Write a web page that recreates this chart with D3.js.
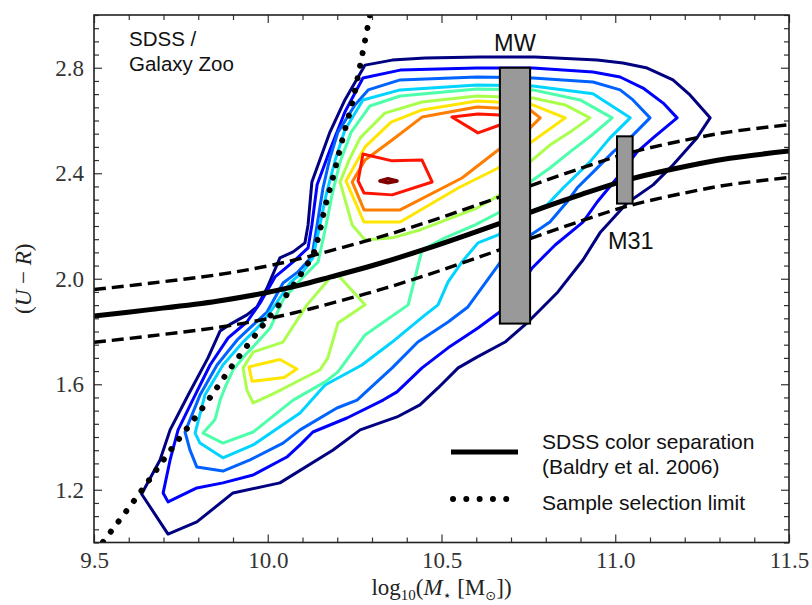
<!DOCTYPE html>
<html>
<head>
<meta charset="utf-8">
<script src="https://cdn.jsdelivr.net/npm/d3@7"></script>
<style>
  body { margin: 0; background: #fff; }
  svg { display: block; }
</style>
</head>
<body>
<svg id="chart" width="812" height="605"></svg>
<script>
// ---- axes -------------------------------------------------------------
const xDomain = [9.5, 11.5];
const yDomain = [1.0, 3.0];
const xTicks = [9.5, 10.0, 10.5, 11.0, 11.5];
const yTicks = [1.2, 1.6, 2.0, 2.4, 2.8];

// ---- density contours of the SDSS / Galaxy Zoo sample ------------------
// jet colours, outermost level first
const levelColors = ["#000080", "#0000ff", "#0063ff", "#00d4ff", "#4dffaa",
                     "#aaff4d", "#ffe600", "#ff7d00", "#ff1400", "#800000"];

// rings as [log10 M*, U-R]
const ring0 = [[9.637,1.184],[9.690,1.313],[9.719,1.427],[9.771,1.559],[9.828,1.700],[9.863,1.802],[9.894,1.829],[9.940,1.863],[9.969,1.893],[9.998,1.965],[10.035,2.079],[10.073,2.102],[10.107,2.136],[10.116,2.204],[10.127,2.367],[10.179,2.556],[10.222,2.678],[10.280,2.810],[10.358,2.829],[10.453,2.837],[10.611,2.841],[10.769,2.841],[10.948,2.829],[11.022,2.818],[11.092,2.799],[11.166,2.754],[11.215,2.697],[11.273,2.610],[11.235,2.534],[11.166,2.431],[11.109,2.356],[11.034,2.287],[10.956,2.174],[10.907,2.071],[10.835,1.950],[10.749,1.836],[10.683,1.760],[10.602,1.703],[10.548,1.662],[10.490,1.586],[10.438,1.522],[10.372,1.476],[10.266,1.427],[10.188,1.351],[10.035,1.226],[9.900,1.188],[9.796,1.078],[9.713,1.032]];
const ring1 = [[9.699,1.188],[9.719,1.313],[9.742,1.427],[9.791,1.559],[9.834,1.673],[9.886,1.776],[9.940,1.836],[9.978,1.908],[10.021,2.007],[10.073,2.064],[10.116,2.117],[10.127,2.204],[10.142,2.356],[10.179,2.488],[10.222,2.632],[10.274,2.761],[10.381,2.791],[10.602,2.799],[10.763,2.799],[10.936,2.784],[11.014,2.765],[11.080,2.723],[11.138,2.666],[11.178,2.610],[11.109,2.534],[11.063,2.481],[11.005,2.382],[10.948,2.291],[10.907,2.215],[10.827,2.128],[10.761,2.041],[10.683,1.889],[10.605,1.813],[10.519,1.738],[10.444,1.662],[10.372,1.571],[10.332,1.540],[10.228,1.472],[10.130,1.419],[10.093,1.370],[10.055,1.324],[9.958,1.256],[9.871,1.226],[9.796,1.207],[9.713,1.154]];
const ring2 = [[9.796,1.286],[9.776,1.351],[9.762,1.419],[9.805,1.559],[9.854,1.673],[9.912,1.768],[9.958,1.825],[9.998,1.874],[10.044,1.984],[10.087,2.026],[10.127,2.083],[10.142,2.204],[10.159,2.344],[10.179,2.458],[10.202,2.556],[10.251,2.659],[10.289,2.716],[10.381,2.754],[10.602,2.765],[10.763,2.761],[10.936,2.746],[11.014,2.716],[11.051,2.678],[11.100,2.610],[11.043,2.534],[10.994,2.481],[10.942,2.412],[10.890,2.344],[10.861,2.291],[10.812,2.215],[10.761,2.170],[10.668,2.060],[10.576,1.893],[10.519,1.836],[10.432,1.760],[10.358,1.662],[10.257,1.540],[10.199,1.510],[10.093,1.427],[10.044,1.377],[9.949,1.313],[9.871,1.271]];
const ring3 = [[9.805,1.377],[9.791,1.415],[9.819,1.559],[9.871,1.673],[9.929,1.760],[9.978,1.825],[10.015,1.889],[10.064,1.984],[10.101,2.026],[10.130,2.079],[10.150,2.204],[10.168,2.318],[10.194,2.450],[10.222,2.564],[10.274,2.678],[10.381,2.716],[10.602,2.735],[10.763,2.731],[10.936,2.701],[11.043,2.610],[10.985,2.534],[10.927,2.443],[10.850,2.344],[10.804,2.280],[10.755,2.253],[10.663,2.166],[10.605,2.136],[10.559,2.064],[10.519,1.988],[10.490,1.901],[10.453,1.863],[10.358,1.760],[10.271,1.673],[10.165,1.597],[10.093,1.491],[9.958,1.370],[9.871,1.321]];
const ring4 = [[9.814,1.415],[9.848,1.465],[9.863,1.540],[9.880,1.597],[9.900,1.654],[9.935,1.711],[9.963,1.749],[10.007,1.813],[10.044,1.920],[10.099,2.003],[10.145,2.064],[10.168,2.204],[10.185,2.318],[10.208,2.443],[10.240,2.556],[10.294,2.655],[10.381,2.693],[10.602,2.719],[10.763,2.716],[10.899,2.678],[10.991,2.610],[10.933,2.545],[10.870,2.481],[10.812,2.420],[10.755,2.367],[10.668,2.253],[10.597,2.204],[10.510,2.155],[10.444,2.109],[10.404,1.901],[10.280,1.787],[10.202,1.647],[10.165,1.609],[10.073,1.540],[9.958,1.419],[9.871,1.377]];
const ring5a = [[10.208,2.367],[10.234,2.450],[10.266,2.534],[10.337,2.628],[10.444,2.670],[10.602,2.693],[10.763,2.685],[10.856,2.659],[10.927,2.610],[10.870,2.556],[10.812,2.507],[10.755,2.443],[10.668,2.318],[10.602,2.268],[10.438,2.185],[10.358,2.155],[10.280,2.147],[10.243,2.204]];
const ring5b = [[9.929,1.662],[9.958,1.722],[10.044,1.760],[10.113,1.901],[10.179,2.003],[10.202,2.014],[10.280,1.901],[10.202,1.832],[10.173,1.700],[10.150,1.654],[10.093,1.616],[10.021,1.567],[9.958,1.529],[9.940,1.578]];
const ring6a = [[10.225,2.371],[10.280,2.500],[10.355,2.594],[10.444,2.640],[10.602,2.674],[10.755,2.663],[10.856,2.610],[10.755,2.515],[10.663,2.420],[10.548,2.344],[10.381,2.215],[10.277,2.215]];
const ring6b = [[9.946,1.666],[10.035,1.694],[10.084,1.658],[10.047,1.626],[9.955,1.611]];
const ring7 = [[10.243,2.367],[10.280,2.450],[10.358,2.526],[10.444,2.613],[10.602,2.651],[10.755,2.640],[10.784,2.610],[10.755,2.572],[10.663,2.488],[10.559,2.382],[10.381,2.261],[10.277,2.261]];
const ring8a = [[10.260,2.371],[10.277,2.325],[10.358,2.318],[10.473,2.367],[10.444,2.450],[10.358,2.447],[10.274,2.473]];
const ring8b = [[10.530,2.613],[10.605,2.625],[10.668,2.621],[10.703,2.606],[10.668,2.583],[10.605,2.553]];
const ring9 = [[10.323,2.371],[10.346,2.379],[10.372,2.371],[10.346,2.364]];

const contourRings = [
  { level: 0, points: ring0 }, { level: 1, points: ring1 },
  { level: 2, points: ring2 }, { level: 3, points: ring3 },
  { level: 4, points: ring4 }, { level: 5, points: ring5a },
  { level: 5, points: ring5b }, { level: 6, points: ring6a },
  { level: 6, points: ring6b }, { level: 7, points: ring7 },
  { level: 8, points: ring8a }, { level: 8, points: ring8b },
  { level: 9, points: ring9 }
];

// ---- red / blue separation (Baldry et al. 2006) and its +-0.1 band ----
const sepMass  = [9.5, 9.661, 9.854, 9.998, 10.093, 10.179, 10.309, 10.453, 10.668, 10.755, 10.899, 11.043, 11.244, 11.330, 11.5];
const sepColor = [1.859, 1.883, 1.915, 1.948, 1.976, 2.006, 2.053, 2.112, 2.210, 2.252, 2.318, 2.378, 2.437, 2.457, 2.484];
const sepUpper = [1.959, 1.983, 2.015, 2.048, 2.076, 2.106, 2.153, 2.212, 2.310, 2.352, 2.418, 2.478, 2.537, 2.557, 2.584];
const sepLower = [1.759, 1.783, 1.815, 1.848, 1.876, 1.906, 1.953, 2.012, 2.110, 2.152, 2.218, 2.278, 2.337, 2.357, 2.384];

// ---- sample selection limit --------------------------------------------
const limitMass  = [9.526, 9.638, 9.727, 9.819, 9.906, 9.998, 10.064, 10.107, 10.130, 10.145, 10.165, 10.185, 10.222, 10.243, 10.266, 10.294];
const limitColor = [1.002, 1.199, 1.362, 1.522, 1.685, 1.844, 1.957, 2.041, 2.090, 2.155, 2.272, 2.371, 2.564, 2.666, 2.810, 3.0];

// ---- Milky Way and Andromeda boxes ---------------------------------------
const galaxyNames   = ["MW", "M31"];
const galaxyMassLo  = [10.668, 11.005];
const galaxyMassHi  = [10.755, 11.050];
const galaxyColorLo = [1.83, 2.285];
const galaxyColorHi = [2.80, 2.54];

// ---- legend --------------------------------------------------------------
const legendLabels = [["SDSS color separation", "(Baldry et al. 2006)"], ["Sample selection limit"]];

// ========================================================================
const plot = { left: 94, right: 789, top: 15, bottom: 542.5 };
const svg = d3.select("#chart");

const x = d3.scaleLinear().domain(xDomain).range([plot.left, plot.right]);
const y = d3.scaleLinear().domain(yDomain).range([plot.bottom, plot.top]);

svg.append("defs").append("clipPath").attr("id", "plotClip")
  .append("rect")
  .attr("x", plot.left).attr("y", plot.top)
  .attr("width", plot.right - plot.left).attr("height", plot.bottom - plot.top);

const inner = svg.append("g").attr("clip-path", "url(#plotClip)");

// contours
const ringLine = d3.line().x(d => x(d[0])).y(d => y(d[1])).curve(d3.curveLinearClosed);
inner.append("g").selectAll("path").data(contourRings).join("path")
  .attr("d", d => ringLine(d.points))
  .attr("fill", "none")
  .attr("stroke", d => levelColors[d.level])
  .attr("stroke-width", d => d.level === 9 ? 3.6 : 3)
  .attr("stroke-linejoin", "round");

// separation line and band
const sepLine = d3.line().x(d => x(d[0])).y(d => y(d[1])).curve(d3.curveCatmullRom.alpha(0.5));
const sepMain  = sepMass.map((m, i) => [m, sepColor[i]]);
const sepHi    = sepMass.map((m, i) => [m, sepUpper[i]]);
const sepLo    = sepMass.map((m, i) => [m, sepLower[i]]);

inner.append("path").attr("d", sepLine(sepHi))
  .attr("fill", "none").attr("stroke", "#000").attr("stroke-width", 3.4)
  .attr("stroke-dasharray", "12 6");
inner.append("path").attr("d", sepLine(sepLo))
  .attr("fill", "none").attr("stroke", "#000").attr("stroke-width", 3.4)
  .attr("stroke-dasharray", "12 6");
inner.append("path").attr("d", sepLine(sepMain))
  .attr("fill", "none").attr("stroke", "#000").attr("stroke-width", 5);

// selection limit (dotted)
const limitLine = d3.line().x(d => x(d[0])).y(d => y(d[1])).curve(d3.curveMonotoneY);
inner.append("path")
  .attr("d", limitLine(limitMass.map((m, i) => [m, limitColor[i]])))
  .attr("fill", "none").attr("stroke", "#000").attr("stroke-width", 6)
  .attr("stroke-linecap", "round").attr("stroke-dasharray", "0.01 12.8");

// galaxy boxes
const boxes = galaxyNames.map((name, i) => ({
  name, m0: galaxyMassLo[i], m1: galaxyMassHi[i], c0: galaxyColorLo[i], c1: galaxyColorHi[i]
}));
svg.append("g").selectAll("rect").data(boxes).join("rect")
  .attr("x", d => x(d.m0)).attr("y", d => y(d.c1))
  .attr("width", d => x(d.m1) - x(d.m0)).attr("height", d => y(d.c0) - y(d.c1))
  .attr("fill", "#999999").attr("stroke", "#000").attr("stroke-width", 2);

svg.append("text")
  .attr("x", (x(boxes[0].m0) + x(boxes[0].m1)) / 2).attr("y", y(boxes[0].c1) - 17)
  .attr("text-anchor", "middle")
  .style("font-family", "'Liberation Sans', Arial, sans-serif").style("font-size", "23.5px")
  .attr("fill", "#111").text(boxes[0].name);
svg.append("text")
  .attr("x", (x(boxes[1].m0) + x(boxes[1].m1)) / 2 + 6).attr("y", y(boxes[1].c0) + 45)
  .attr("text-anchor", "middle")
  .style("font-family", "'Liberation Sans', Arial, sans-serif").style("font-size", "23.5px")
  .attr("fill", "#111").text(boxes[1].name);

// ---- axes ----------------------------------------------------------------
const fmt = d3.format(".1f");
const xMinor = d3.range(95, 116).map(v => v / 10).filter(v => !xTicks.some(t => Math.abs(t - v) < 1e-9));
const yMinor = d3.range(20, 61).map(v => v / 20).filter(v => !yTicks.some(t => Math.abs(t - v) < 1e-9));

function styleAxis(g) {
  g.select(".domain").remove();
  g.selectAll(".tick line").attr("stroke", "#333").attr("stroke-width", 1.2);
  g.selectAll(".tick text")
    .style("font-family", "'Liberation Serif', 'Times New Roman', serif")
    .style("font-size", "23px").attr("fill", "#333");
}

svg.append("g").attr("transform", `translate(0,${plot.bottom})`)
  .call(d3.axisBottom(x).tickValues(xTicks).tickSize(-8).tickSizeOuter(0).tickPadding(9).tickFormat(fmt))
  .call(styleAxis);
svg.append("g").attr("transform", `translate(0,${plot.bottom})`)
  .call(d3.axisBottom(x).tickValues(xMinor).tickSize(-5).tickSizeOuter(0).tickFormat(""))
  .call(styleAxis);
svg.append("g").attr("transform", `translate(0,${plot.top})`)
  .call(d3.axisTop(x).tickValues(xTicks).tickSize(-8).tickSizeOuter(0).tickFormat(""))
  .call(styleAxis);
svg.append("g").attr("transform", `translate(0,${plot.top})`)
  .call(d3.axisTop(x).tickValues(xMinor).tickSize(-5).tickSizeOuter(0).tickFormat(""))
  .call(styleAxis);

svg.append("g").attr("transform", `translate(${plot.left},0)`)
  .call(d3.axisLeft(y).tickValues(yTicks).tickSize(-8).tickSizeOuter(0).tickPadding(10).tickFormat(fmt))
  .call(styleAxis);
svg.append("g").attr("transform", `translate(${plot.left},0)`)
  .call(d3.axisLeft(y).tickValues(yMinor).tickSize(-5).tickSizeOuter(0).tickFormat(""))
  .call(styleAxis);
svg.append("g").attr("transform", `translate(${plot.right},0)`)
  .call(d3.axisRight(y).tickValues(yTicks).tickSize(-8).tickSizeOuter(0).tickFormat(""))
  .call(styleAxis);
svg.append("g").attr("transform", `translate(${plot.right},0)`)
  .call(d3.axisRight(y).tickValues(yMinor).tickSize(-5).tickSizeOuter(0).tickFormat(""))
  .call(styleAxis);

// frame
svg.append("rect")
  .attr("x", plot.left).attr("y", plot.top)
  .attr("width", plot.right - plot.left).attr("height", plot.bottom - plot.top)
  .attr("fill", "none").attr("stroke", "#222").attr("stroke-width", 1.6);

// axis titles
const serif = "'Liberation Serif', 'Times New Roman', serif";
const xTitle = svg.append("text")
  .attr("x", (plot.left + plot.right) / 2).attr("y", 595)
  .attr("text-anchor", "middle").attr("fill", "#222")
  .style("font-family", serif).style("font-size", "23px");
xTitle.append("tspan").text("log");
xTitle.append("tspan").attr("dy", 5).style("font-size", "15px").text("10");
xTitle.append("tspan").attr("dy", -5).text("(");
xTitle.append("tspan").style("font-style", "italic").text("M");
xTitle.append("tspan").attr("dy", 5).style("font-size", "14px").style("font-family", "'DejaVu Sans', sans-serif").text("⋆");
xTitle.append("tspan").attr("dy", -5).text("\u00a0[M");
xTitle.append("tspan").attr("dy", 5).style("font-size", "13px").style("font-family", "'DejaVu Sans', sans-serif").text("⊙");
xTitle.append("tspan").attr("dy", -5).text("])");

const yTitle = svg.append("text")
  .attr("transform", `translate(31,${(plot.top + plot.bottom) / 2}) rotate(-90)`)
  .attr("text-anchor", "middle").attr("fill", "#222")
  .style("font-family", serif).style("font-size", "23px");
yTitle.append("tspan").text("(");
yTitle.append("tspan").style("font-style", "italic").text("U");
yTitle.append("tspan").text("\u00a0\u2212\u00a0");
yTitle.append("tspan").style("font-style", "italic").text("R");
yTitle.append("tspan").text(")");

// sample name
const sans = "'Liberation Sans', Arial, sans-serif";
svg.append("text").attr("x", 129).attr("y", 46)
  .style("font-family", sans).style("font-size", "20.5px").attr("fill", "#111").text("SDSS /");
svg.append("text").attr("x", 129).attr("y", 70.5)
  .style("font-family", sans).style("font-size", "20.5px").attr("fill", "#111").text("Galaxy Zoo");

// legend
const legend = svg.append("g");
legend.append("line").attr("x1", 451).attr("x2", 518).attr("y1", 452).attr("y2", 452)
  .attr("stroke", "#000").attr("stroke-width", 5);
legend.append("line").attr("x1", 453).attr("x2", 508).attr("y1", 499).attr("y2", 499)
  .attr("stroke", "#000").attr("stroke-width", 6)
  .attr("stroke-linecap", "round").attr("stroke-dasharray", "0.01 13.3");
const lt1 = legend.append("text").attr("x", 542).attr("y", 449)
  .style("font-family", sans).style("font-size", "21px").attr("fill", "#111");
lt1.append("tspan").attr("x", 542).text(legendLabels[0][0]);
lt1.append("tspan").attr("x", 542).attr("dy", 25).text(legendLabels[0][1]);
legend.append("text").attr("x", 542).attr("y", 510)
  .style("font-family", sans).style("font-size", "21px").attr("fill", "#111")
  .text(legendLabels[1][0]);
</script>
</body>
</html>
